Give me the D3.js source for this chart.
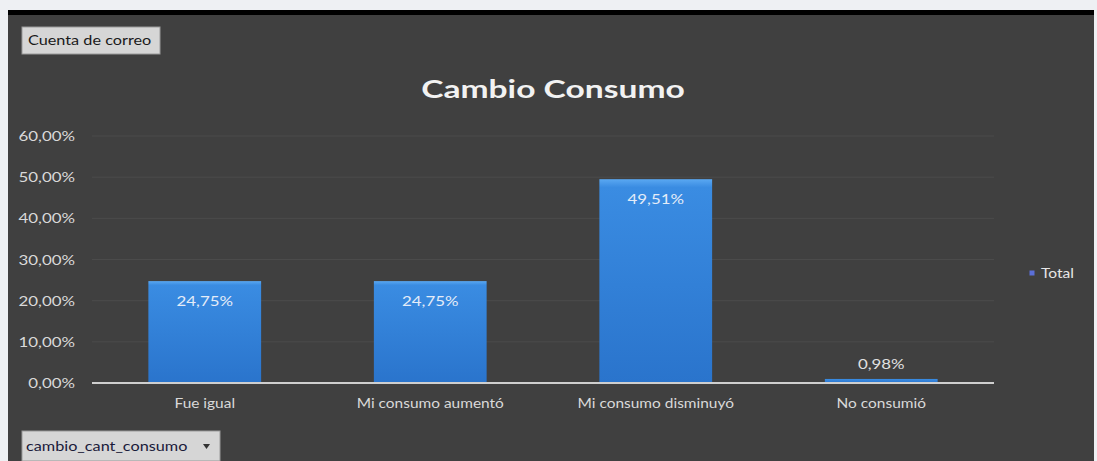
<!DOCTYPE html>
<html>
<head>
<meta charset="utf-8">
<script src="https://cdn.jsdelivr.net/npm/d3@7"></script>
<style>
  html, body { margin: 0; padding: 0; background: #eef0f3; }
  svg { display: block; }
</style>
</head>
<body>
<svg id="chart" width="1097" height="461"></svg>
<script>
// Share of respondents per change-in-consumption answer
const categories = ["Fue igual", "Mi consumo aumentó", "Mi consumo disminuyó", "No consumió"];
const totals = [0.2475, 0.2475, 0.4951, 0.0098];
const yTicks = [0, 0.1, 0.2, 0.3, 0.4, 0.5, 0.6];
const seriesName = "Total";
const chartTitle = "Cambio Consumo";
const valueField = "Cuenta de correo";
const rowField = "cambio_cant_consumo";

const fmt = v => (v * 100).toFixed(2).replace(".", ",") + "%";
const font = "Lato, 'Open Sans', sans-serif";

// text drawn with a horizontal stretch around its anchor point
function stretched(sel, sx, x, y) {
  return sel.attr("x", 0).attr("y", 0).attr("transform", `translate(${x},${y}) scale(${sx},1)`);
}

const svg = d3.select("#chart");
const W = 1097, H = 461;

// page strip, dark frame line, chart panel
svg.append("rect").attr("x", 0).attr("y", 0).attr("width", W).attr("height", H).attr("fill", "#eef0f3");
svg.append("rect").attr("x", 8).attr("y", 10).attr("width", 1086).attr("height", 5).attr("fill", "#000");
svg.append("rect").attr("x", 8).attr("y", 15).attr("width", 1086).attr("height", H - 15).attr("fill", "#404040");

const defs = svg.append("defs");
const grad = defs.append("linearGradient").attr("id", "barGrad").attr("x1", 0).attr("x2", 0).attr("y1", 0).attr("y2", 1);
grad.append("stop").attr("offset", "0%").attr("stop-color", "#5aa8f2");
grad.append("stop").attr("offset", "4%").attr("stop-color", "#3a8ce2");
grad.append("stop").attr("offset", "100%").attr("stop-color", "#2a74cc");

const plot = { left: 92, right: 994, top: 136, bottom: 383 };

const x = d3.scaleBand().domain(categories).range([plot.left, plot.right]).paddingInner(0.5).paddingOuter(0.25);
const y = d3.scaleLinear().domain([0, 0.6]).range([plot.bottom, plot.top]);

// gridlines
svg.append("g")
  .selectAll("line").data(yTicks.filter(t => t > 0)).join("line")
  .attr("x1", plot.left).attr("x2", plot.right)
  .attr("y1", d => y(d)).attr("y2", d => y(d))
  .attr("stroke", "#4b4b4b").attr("stroke-width", 1);

// y axis labels
const yAxis = d3.axisLeft(y).tickValues(yTicks).tickFormat(fmt).tickSize(0).tickPadding(0);
const yg = svg.append("g").attr("transform", `translate(${75},0)`).call(yAxis);
yg.select(".domain").remove();
yg.selectAll("text").attr("fill", "#d9d9d9").attr("font-family", font).attr("font-size", 13)
  .attr("dy", "0.35em").attr("x", 0).attr("transform", "scale(1.3,1)");

// bars
svg.append("g").selectAll("rect").data(categories).join("rect")
  .attr("x", d => x(d))
  .attr("y", (d, i) => y(totals[i]))
  .attr("width", x.bandwidth())
  .attr("height", (d, i) => y(0) - y(totals[i]))
  .attr("fill", "url(#barGrad)");

// x axis
const xAxis = d3.axisBottom(x).tickSize(0).tickPadding(16);
const xg = svg.append("g").attr("transform", `translate(0,${plot.bottom})`).call(xAxis);
xg.select(".domain").attr("stroke", "#cfcfcf").attr("stroke-width", 2).attr("d", `M${plot.left},0H${plot.right}`);
xg.selectAll("text").attr("fill", "#d9d9d9").attr("font-family", font).attr("font-size", 13)
  .attr("transform", "scale(1.19,1)");

// value labels: inside the top of tall bars, above short ones
svg.append("g").selectAll("text").data(categories).join("text")
  .each(function (d, i) {
    const inside = totals[i] > 0.05;
    stretched(d3.select(this), 1.3, x(d) + x.bandwidth() / 2,
      inside ? y(totals[i]) + 25 : y(totals[i]) - 10);
  })
  .attr("text-anchor", "middle")
  .attr("fill", (d, i) => totals[i] > 0.05 ? "#e4ecf8" : "#e0e0e0")
  .attr("font-family", font).attr("font-size", 13)
  .text((d, i) => fmt(totals[i]));

// title
stretched(svg.append("text"), 1.4, 553, 98)
  .attr("text-anchor", "middle")
  .attr("fill", "#f2f2f2").attr("font-family", font).attr("font-weight", "bold").attr("font-size", 24)
  .text(chartTitle);

// legend
const lg = svg.append("g").attr("transform", "translate(1032,273)");
lg.append("rect").attr("x", -2.5).attr("y", -2.5).attr("width", 5).attr("height", 5).attr("fill", "#5b6fd8");
stretched(lg.append("text"), 1.2, 9, 0).attr("dy", "0.35em").attr("fill", "#e6e6e6")
  .attr("font-family", font).attr("font-size", 13).text(seriesName);

// pivot field buttons
const btn1 = svg.append("g").attr("transform", "translate(22,27)");
btn1.append("rect").attr("width", 138).attr("height", 27).attr("fill", "#d6d6d6").attr("stroke", "#9a9a9a");
stretched(btn1.append("text"), 1.3, 6, 14).attr("dy", "0.35em").attr("fill", "#1a1a1a")
  .attr("font-family", font).attr("font-size", 12.5).text(valueField);

const btn2 = svg.append("g").attr("transform", "translate(22,431)");
btn2.append("rect").attr("width", 198).attr("height", 30).attr("fill", "#d6d6d6").attr("stroke", "#9a9a9a");
stretched(btn2.append("text"), 1.25, 4, 15).attr("dy", "0.35em").attr("fill", "#1a1a3a")
  .attr("font-family", font).attr("font-size", 13).text(rowField);
btn2.append("path").attr("d", "M181,13 l7,0 l-3.5,5 z").attr("fill", "#333");
</script>
</body>
</html>
